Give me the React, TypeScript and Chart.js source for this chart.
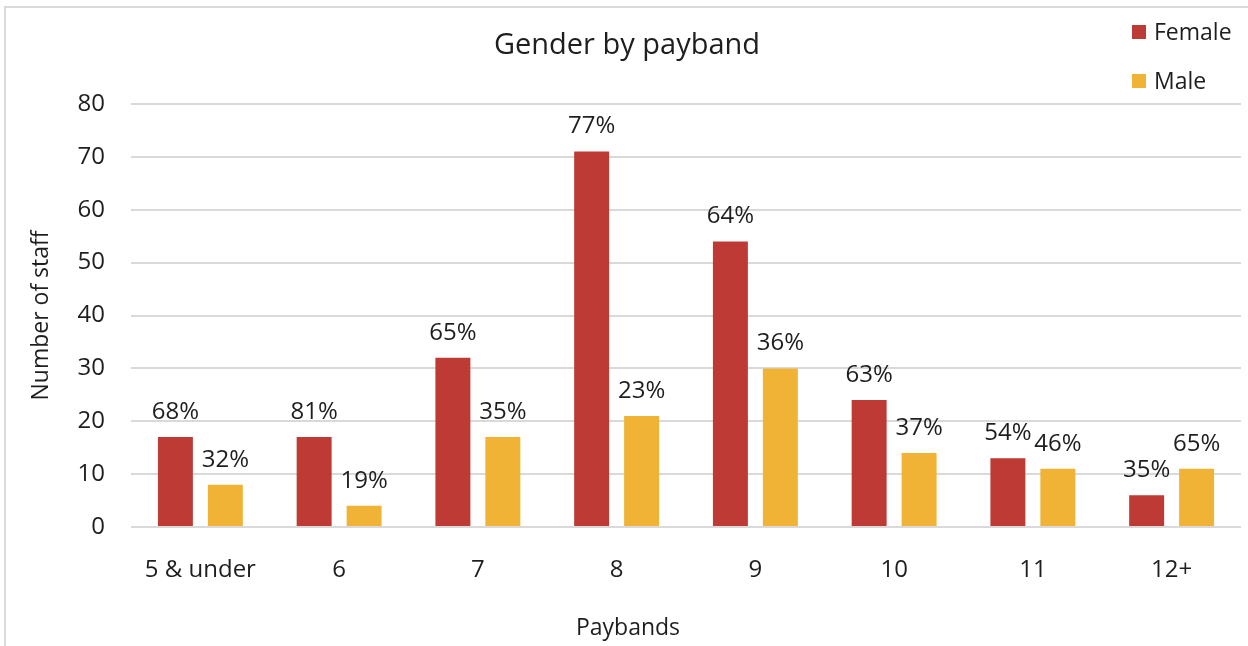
import React, { useEffect, useRef } from "react";
import { Chart, registerables } from "chart.js";

Chart.register(...registerables);

const categories = ["5 & under", "6", "7", "8", "9", "10", "11", "12+"];
const femaleCounts = [17, 17, 32, 71, 54, 24, 13, 6];
const maleCounts = [8, 4, 17, 21, 30, 14, 11, 11];
const femalePct = ["68%", "81%", "65%", "77%", "64%", "63%", "54%", "35%"];
const malePct = ["32%", "19%", "35%", "23%", "36%", "37%", "46%", "65%"];
const seriesNames = ["Female", "Male"];
const chartTitle = "Gender by payband";
const yTitle = "Number of staff";
const xTitle = "Paybands";

const RED = "#BE3A34";
const YELLOW = "#F0B335";
const TEXT = "#1e1e1e";
const FONT = "'Open Sans', 'DejaVu Sans', sans-serif";

const decorPlugin = {
  id: "decor",
  beforeDraw(chart: any) {
    const ctx = chart.ctx;
    ctx.save();
    ctx.fillStyle = "#ffffff";
    ctx.fillRect(0, 0, chart.width, chart.height);
    ctx.strokeStyle = "#d9d9d9";
    ctx.lineWidth = 2;
    ctx.strokeRect(5, 7, chart.width + 20, chart.height + 20);
    ctx.restore();
  },
  afterDraw(chart: any) {
    const ctx = chart.ctx;
    ctx.save();
    // title
    ctx.fillStyle = TEXT;
    ctx.font = `29px ${FONT}`;
    ctx.textAlign = "center";
    ctx.textBaseline = "middle";
    ctx.fillText(chartTitle, 627, 46);
    // x axis title (centred on the whole chart, as in the reference)
    ctx.font = `23px ${FONT}`;
    ctx.fillText(xTitle, 628, 628);
    // legend
    const colors = [RED, YELLOW];
    const ys = [32, 81];
    ctx.font = `23px ${FONT}`;
    ctx.textAlign = "left";
    for (let i = 0; i < seriesNames.length; i++) {
      ctx.fillStyle = colors[i];
      ctx.fillRect(1132, ys[i] - 7, 14, 14);
      ctx.fillStyle = TEXT;
      ctx.fillText(seriesNames[i], 1154, ys[i] + 1);
    }
    // data labels
    ctx.font = `24px ${FONT}`;
    ctx.textAlign = "center";
    ctx.textBaseline = "middle";
    const labelSets = [femalePct, malePct];
    chart.data.datasets.forEach((_ds: any, di: number) => {
      const meta = chart.getDatasetMeta(di);
      meta.data.forEach((bar: any, i: number) => {
        ctx.fillStyle = TEXT;
        ctx.fillText(labelSets[di][i], bar.x, bar.y - 25);
      });
    });
    ctx.restore();
  },
};

export default function App() {
  const ref = useRef<HTMLCanvasElement | null>(null);
  useEffect(() => {
    if (!ref.current) return;
    const chart = new Chart(ref.current, {
      type: "bar",
      data: {
        labels: categories,
        datasets: [
          {
            label: seriesNames[0],
            data: femaleCounts,
            backgroundColor: RED,
            categoryPercentage: 0.72,
            barPercentage: 0.7,
          },
          {
            label: seriesNames[1],
            data: maleCounts,
            backgroundColor: YELLOW,
            categoryPercentage: 0.72,
            barPercentage: 0.7,
          },
        ],
      },
      options: {
        responsive: false,
        animation: false,
        devicePixelRatio: 1,
        layout: { padding: { top: 104, left: 0, right: 7, bottom: 0 } },
        plugins: {
          legend: { display: false },
          title: { display: false },
          tooltip: { enabled: false },
        },
        scales: {
          x: {
            grid: { display: false },
            border: { display: false },
            ticks: {
              color: TEXT,
              font: { family: FONT, size: 24 },
              padding: 21,
              maxRotation: 0,
            },
            title: { display: false },
            afterFit(scale: any) {
              scale.height = 119;
            },
          },
          y: {
            min: 0,
            max: 80,
            ticks: {
              stepSize: 10,
              color: TEXT,
              font: { family: FONT, size: 24 },
              padding: 26,
            },
            grid: { color: "#d9d9d9", lineWidth: 2, drawTicks: false },
            border: { display: false },
            title: {
              display: true,
              text: yTitle,
              color: TEXT,
              font: { family: FONT, size: 23 },
              padding: { top: 28, bottom: 0 },
            },
            afterFit(scale: any) {
              scale.width = 131;
            },
          },
        },
      },
      plugins: [decorPlugin],
    });
    return () => chart.destroy();
  }, []);
  return (
    <div style={{ position: "fixed", left: 0, top: 0, width: 1248, height: 646 }}>
      <canvas ref={ref} width={1248} height={646} style={{ display: "block" }} />
    </div>
  );
}
